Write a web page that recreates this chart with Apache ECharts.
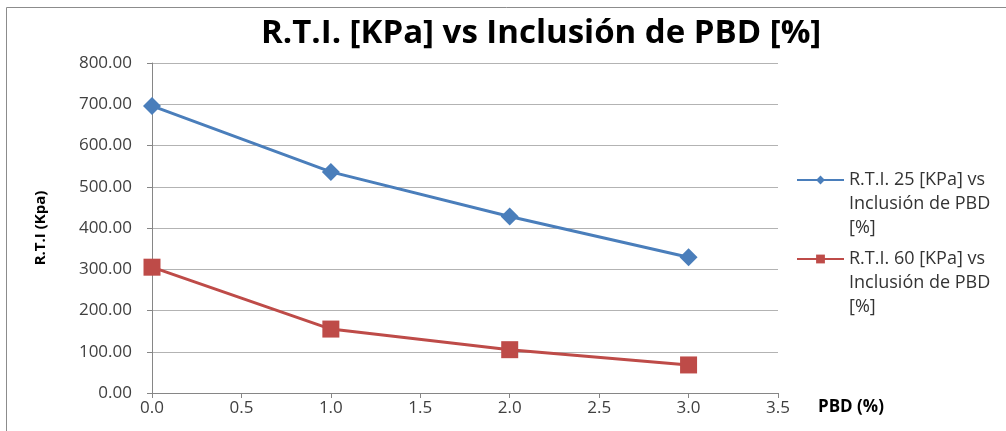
<!DOCTYPE html>
<html><head><meta charset="utf-8">
<script src="https://cdn.jsdelivr.net/npm/echarts@6/dist/echarts.min.js"></script>
<style>html,body{margin:0;padding:0;background:#fff}#c{width:1006px;height:431px}</style>
</head><body><div id="c"></div>
<script>
const xValues = [0, 1, 2, 3];
const rti25 = [696, 536, 428, 329];
const rti60 = [305, 155, 105, 68];
const seriesNames = ['R.T.I. 25 [KPa] vs Inclusión de PBD [%]', 'R.T.I. 60 [KPa] vs Inclusión de PBD [%]'];
const legendLines = [['R.T.I. 25 [KPa] vs', 'Inclusión de PBD', '[%]'], ['R.T.I. 60 [KPa] vs', 'Inclusión de PBD', '[%]']];
const titleText = 'R.T.I. [KPa] vs Inclusión de PBD [%]';
const yName = 'R.T.I (Kpa)';
const xName = 'PBD (%)';

const chart = echarts.init(document.getElementById('c'));
const FONT = 'Open Sans';
const legendTmpl = (idx, top) => ({
  data: [seriesNames[idx]],
  left: 791, top: top,
  itemWidth: 47, itemHeight: 11, itemGap: 0,
  formatter: () => '\n\n' + legendLines[idx].join('\n'),
  textStyle: { fontFamily: FONT, fontSize: 18, color: '#333', lineHeight: 24 }
});
chart.setOption({
  animation: false,
  textStyle: { fontFamily: FONT },
  title: {
    text: titleText, left: 256, top: 12,
    textStyle: { fontFamily: FONT, fontWeight: 'bold', fontSize: 33, color: '#000' }
  },
  graphic: [{
    type: 'rect', shape: { x: 6.5, y: 7.5, width: 1100, height: 500 },
    style: { fill: 'none', stroke: '#8c8c8c', lineWidth: 1 }, silent: true
  }],
  legend: [legendTmpl(0, 115), legendTmpl(1, 194)],
  grid: { left: 152, right: 228, top: 63, bottom: 38 },
  xAxis: {
    type: 'value', min: 0, max: 3.5, interval: 0.5,
    name: xName, nameLocation: 'end', nameGap: 40,
    nameTextStyle: { fontFamily: FONT, fontWeight: 'bold', fontSize: 17, color: '#000', align: 'left', verticalAlign: 'top', padding: [6, 0, 0, 0] },
    axisLine: { lineStyle: { color: '#868686' } },
    axisTick: { show: true, length: 5, lineStyle: { color: '#868686' } },
    splitLine: { show: false },
    axisLabel: { formatter: v => v.toFixed(1), fontSize: 17, color: '#404040', margin: 7 }
  },
  yAxis: {
    type: 'value', min: 0, max: 800, interval: 100,
    name: yName, nameLocation: 'middle', nameGap: 104, nameRotate: 90,
    nameTextStyle: { fontFamily: FONT, fontWeight: 'bold', fontSize: 15, color: '#000' },
    axisLine: { show: true, lineStyle: { color: '#868686' } },
    axisTick: { show: true, length: 5, lineStyle: { color: '#868686' } },
    splitLine: { lineStyle: { color: '#b3b3b3', width: 1 } },
    axisLabel: { formatter: v => v.toFixed(2), fontSize: 17, color: '#404040', margin: 20 }
  },
  series: [
    { name: seriesNames[0], type: 'line', data: xValues.map((x, i) => [x, rti25[i]]),
      symbol: 'diamond', symbolSize: 18, lineStyle: { width: 3, color: '#4a7ebb' },
      itemStyle: { color: '#4a7ebb' } },
    { name: seriesNames[1], type: 'line', data: xValues.map((x, i) => [x, rti60[i]]),
      symbol: 'rect', symbolSize: 17, lineStyle: { width: 3, color: '#be4b48' },
      itemStyle: { color: '#be4b48' } }
  ]
});
</script></body></html>
